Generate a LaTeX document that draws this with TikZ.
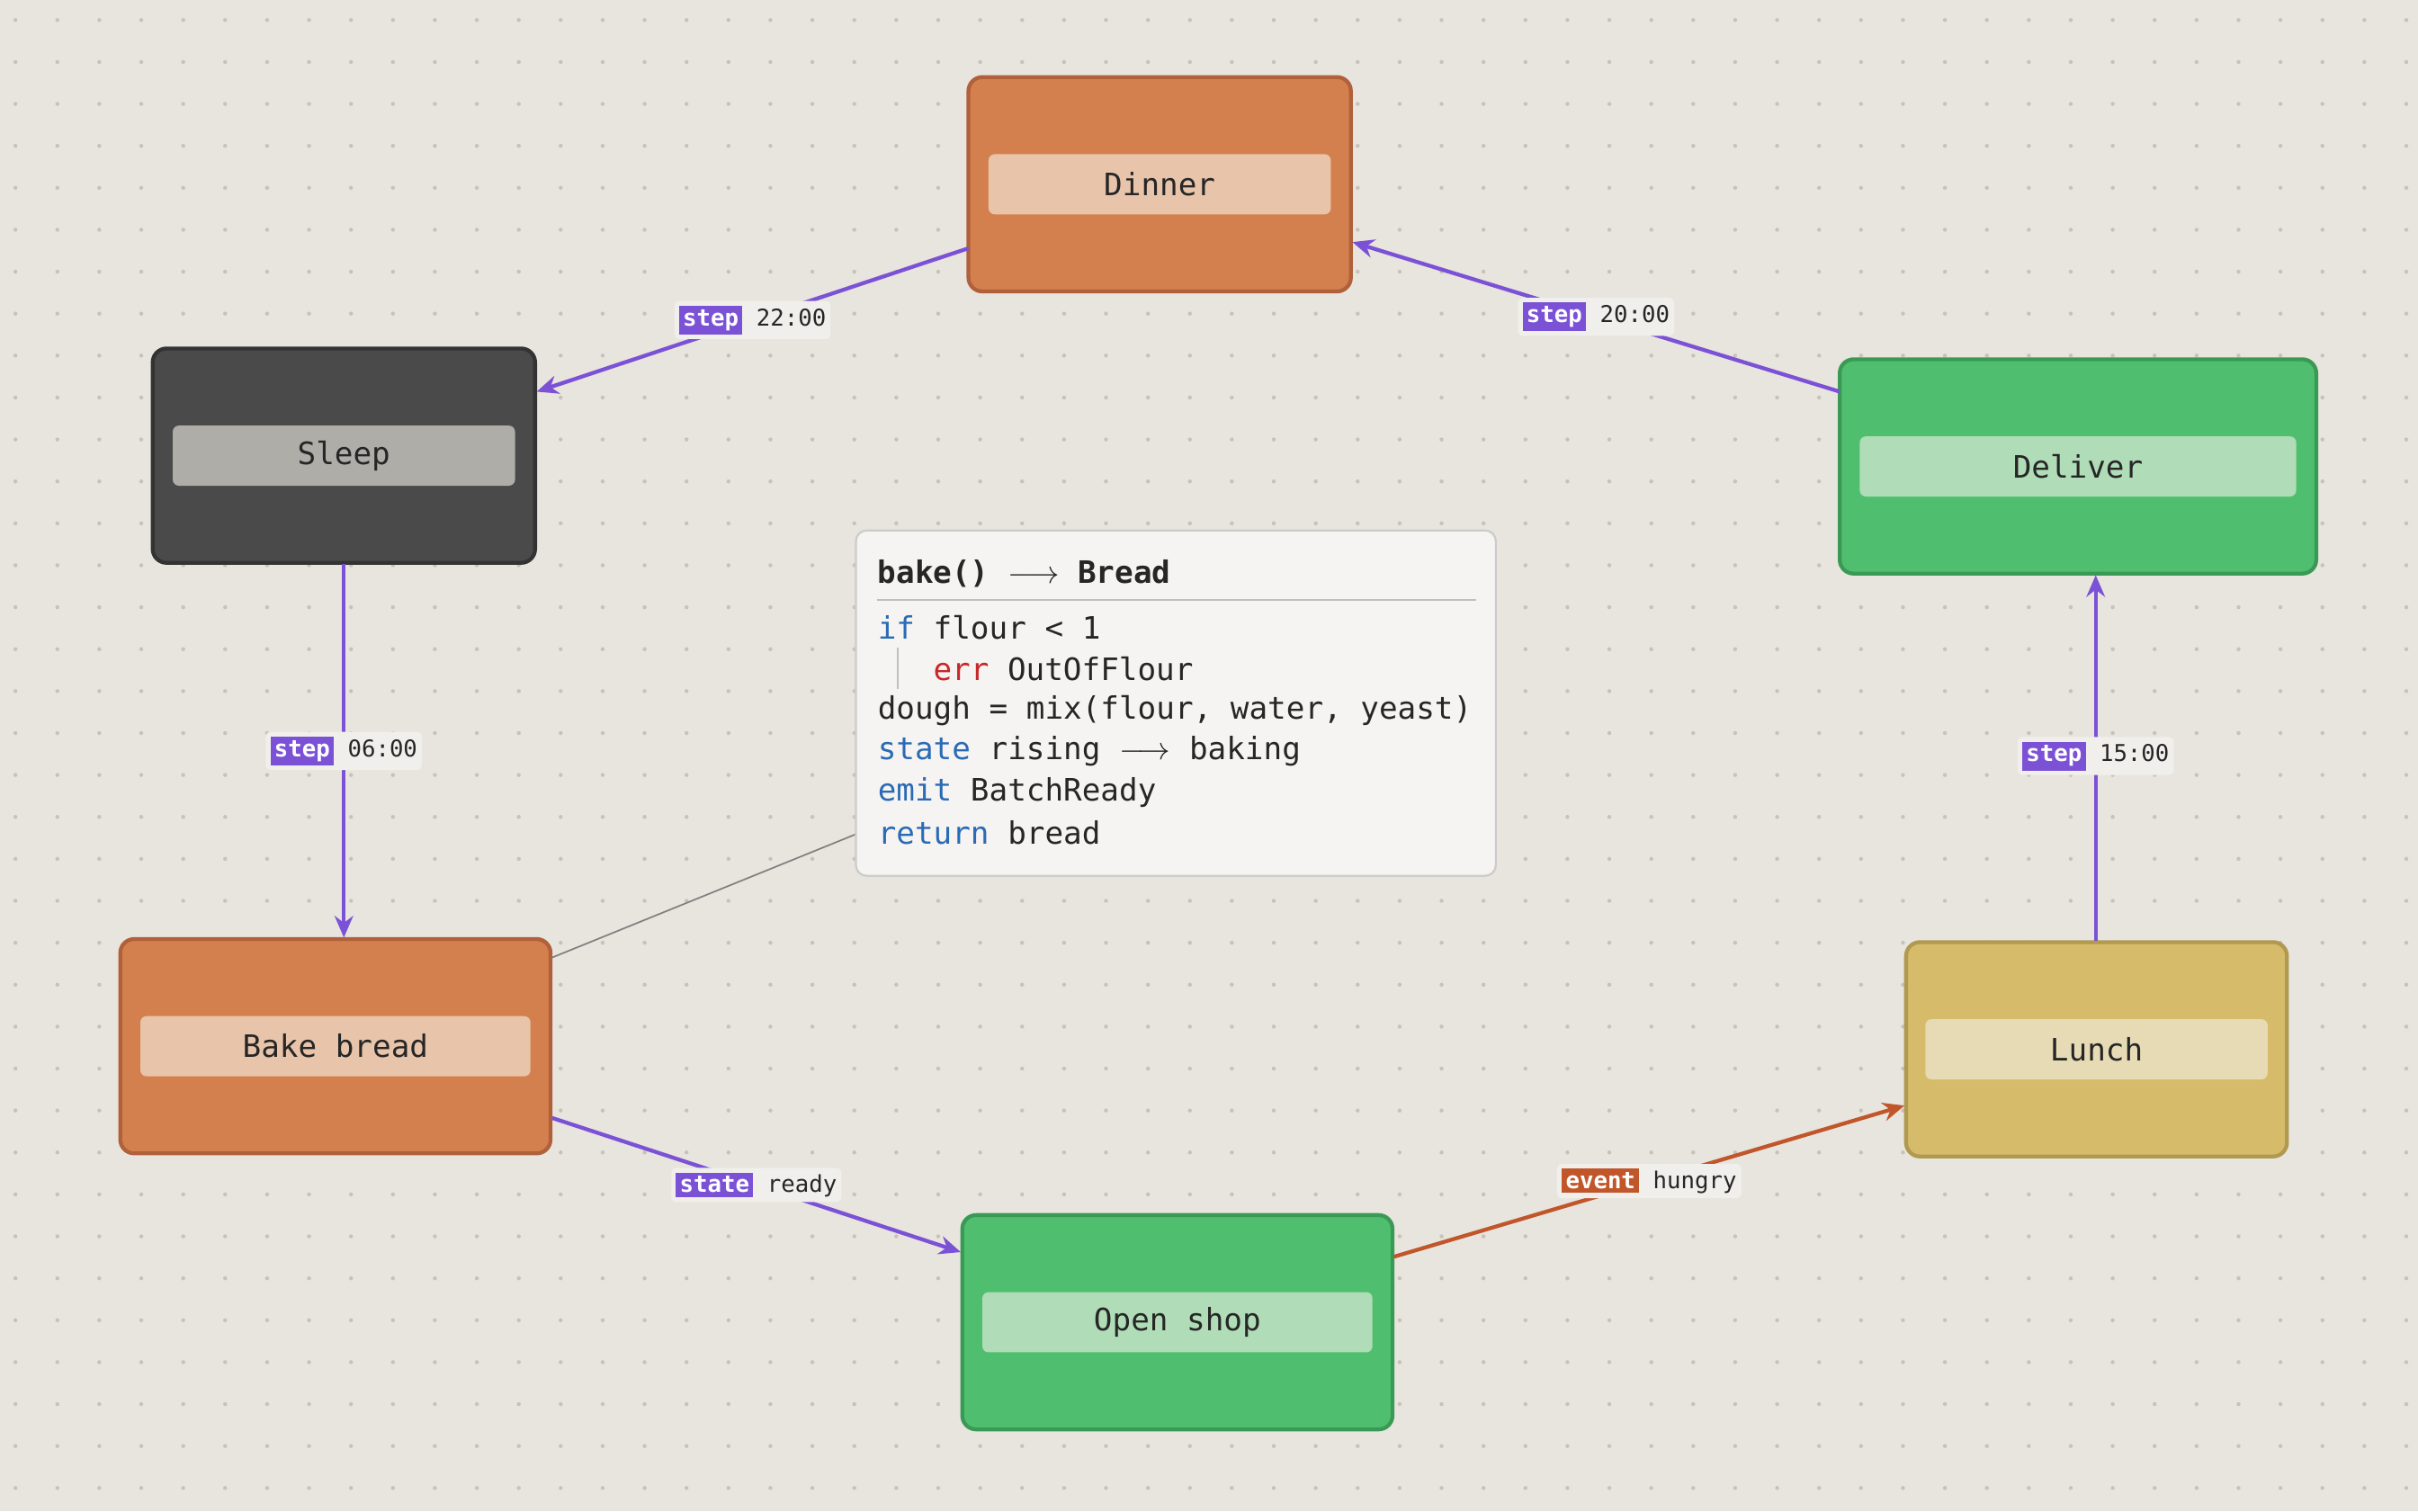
\documentclass[tikz,border=0pt]{standalone}
\usepackage{fontspec}
\usetikzlibrary{arrows.meta}
\newfontfamily\mono{DejaVu Sans Mono}
\definecolor{bg}{HTML}{E8E4DE}
\definecolor{dotc}{HTML}{C8C2B9}
\definecolor{purp}{HTML}{7B52D6}
\definecolor{orng}{HTML}{C0562A}
\definecolor{orfill}{HTML}{D4804E}\definecolor{ordraw}{HTML}{B0603A}\definecolor{orin}{HTML}{E8C4AA}
\definecolor{grfill}{HTML}{4FBF6F}\definecolor{grdraw}{HTML}{3A9A55}\definecolor{grin}{HTML}{B0DDB7}
\definecolor{dkfill}{HTML}{4A4A4A}\definecolor{dkdraw}{HTML}{333333}\definecolor{dkin}{HTML}{AEADA8}
\definecolor{yefill}{HTML}{D6BB6A}\definecolor{yedraw}{HTML}{B09A50}\definecolor{yein}{HTML}{E6DBB5}
\definecolor{kw}{HTML}{2A6BB5}\definecolor{er}{HTML}{C8282A}
\newcommand\badge[2]{{\setlength\fboxsep{2.5pt}\colorbox{#1}{\textcolor{white}{\bfseries #2}}}}
\tikzset{
 box/.style={rounded corners=9pt, line width=2.5pt},
 inner/.style={rounded corners=4pt, minimum height=39pt, font=\mono\fontsize{20}{24}\selectfont, text=black!85},
 edge/.style={line width=2.5pt, purp, -{Stealth[length=14pt,width=12pt]}},
 lab/.style={fill=bg!60!white, rounded corners=3pt, inner sep=3pt, font=\mono\fontsize{15}{18}\selectfont, text=black!85},
}
\begin{document}
\begin{tikzpicture}[x=1pt,y=-1pt]
\fill[bg] (0,0) rectangle (1568,980);
\useasboundingbox (0,0) rectangle (1568,980);
\foreach \i in {0,...,57}{\foreach \j in {0,...,35}{\fill[dotc] (10+27.2*\i,13+27.2*\j) circle (1.3);}}
% boxes
\draw[box,fill=orfill,draw=ordraw] (628,50) rectangle (876,189); \node[inner,fill=orin,minimum width=222pt] (dinner) at (752,119.5) {Dinner};
\draw[box,fill=dkfill,draw=dkdraw] (99,226) rectangle (347,365); \node[inner,fill=dkin,minimum width=222pt] (sleep) at (223,295.5) {Sleep};
\draw[box,fill=grfill,draw=grdraw] (1193,233) rectangle (1502,372); \node[inner,fill=grin,minimum width=283pt] (deliver) at (1347.5,302.5) {Deliver};
\draw[box,fill=orfill,draw=ordraw] (78,609) rectangle (357,748); \node[inner,fill=orin,minimum width=253pt] (bake) at (217.5,678.5) {Bake bread};
\draw[box,fill=grfill,draw=grdraw] (624,788) rectangle (903,927); \node[inner,fill=grin,minimum width=253pt] (shop) at (763.5,857.5) {Open shop};
\draw[box,fill=yefill,draw=yedraw] (1236,611) rectangle (1483,750); \node[inner,fill=yein,minimum width=222pt] (lunch) at (1359.5,680.5) {Lunch};
% code box
\coordinate (cb) at (555,541); \coordinate (bb) at (358,621);
\draw[gray,line width=1pt] (bb) -- (cb);
\draw[fill=white!60!bg, draw=black!20, line width=1.3pt, rounded corners=7pt] (555,344) rectangle (970,568);
\draw[black!25,line width=1pt] (569,389) -- (957,389);
\draw[black!25,line width=1pt] (582,420) -- (582,447);
\begin{scope}[every node/.style={anchor=west,inner sep=0,font=\mono\fontsize{20}{24}\selectfont,text=black!85}]
\node (t0) at (569,372) {\bfseries bake() $\longrightarrow$ Bread};
\node (t1) at (569,407) {\textcolor{kw}{if} flour < 1};
\node (t2) at (605,434) {\textcolor{er}{err} OutOfFlour};
\node (t3) at (569,461) {dough = mix(flour, water, yeast)};
\node (t4) at (569,487) {\textcolor{kw}{state} rising $\longrightarrow$ baking};
\node (t5) at (569,514) {\textcolor{kw}{emit} BatchReady};
\node (t6) at (569,540) {\textcolor{kw}{return} bread};
\end{scope}
% edges
\coordinate (a1) at (628,161); \coordinate (a2) at (348,254);
\draw[edge] (a1) -- (a2) node[lab,pos=0.5,text=black!85] {\badge{purp}{step} 22:00};
\coordinate (b1) at (1193,254); \coordinate (b2) at (877,157);
\draw[edge] (b1) -- (b2) node[lab,pos=0.5] {\badge{purp}{step} 20:00};
\coordinate (c1) at (223,366); \coordinate (c2) at (223,608);
\draw[edge] (c1) -- (c2) node[lab,pos=0.5] {\badge{purp}{step} 06:00};
\coordinate (d1) at (1359,610); \coordinate (d2) at (1359,373);
\draw[edge] (d1) -- (d2) node[lab,pos=0.505] {\badge{purp}{step} 15:00};
\coordinate (e1) at (358,725); \coordinate (e2) at (623,812);
\draw[edge] (e1) -- (e2) node[lab,pos=0.5] {\badge{purp}{state} ready};
\coordinate (f1) at (904,815); \coordinate (f2) at (1235,717);
\draw[edge,orng] (f1) -- (f2) node[lab,pos=0.5] {\badge{orng}{event} hungry};
\end{tikzpicture}
\end{document}
